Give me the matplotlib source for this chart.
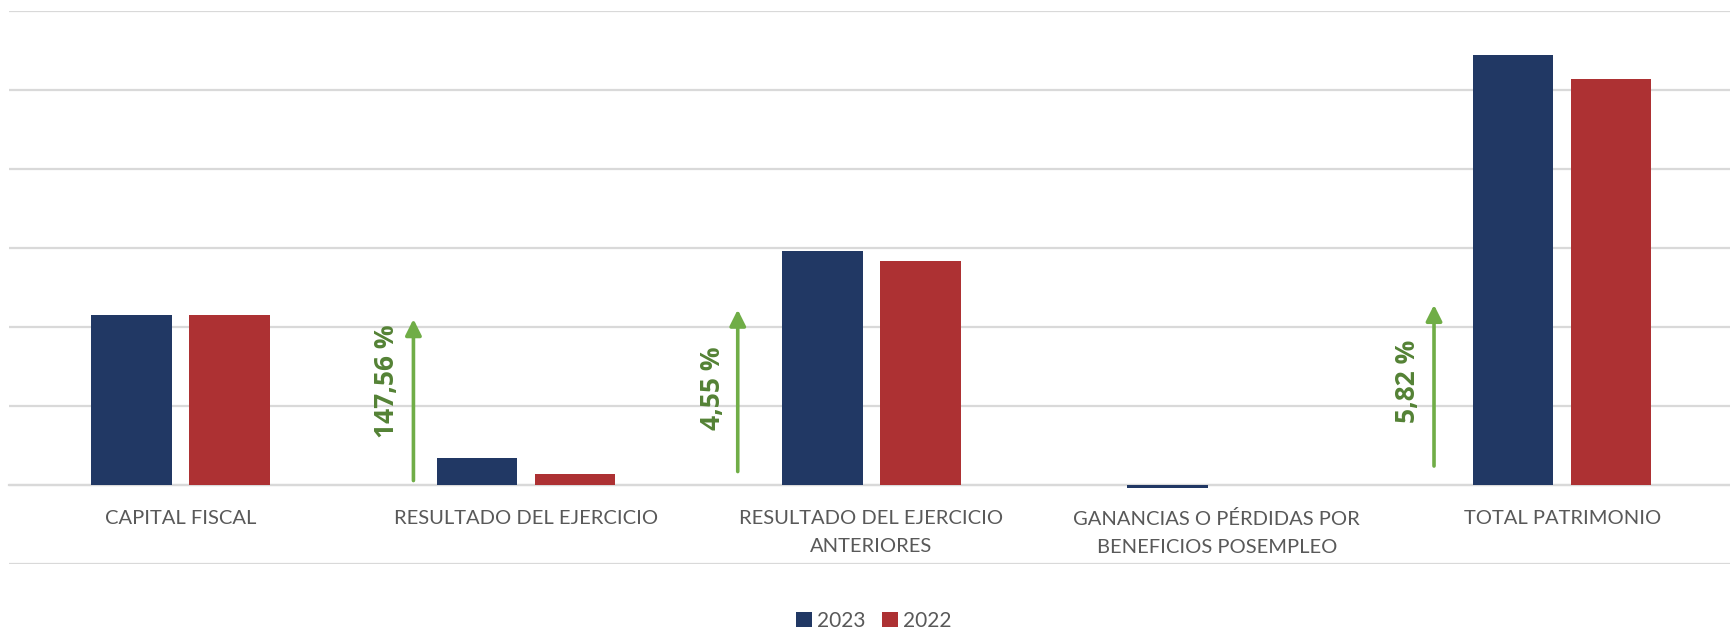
import matplotlib
matplotlib.use("Agg")
import matplotlib.pyplot as plt
import numpy as np

categories = [
    "CAPITAL FISCAL",
    "RESULTADO DEL EJERCICIO",
    "RESULTADO DEL EJERCICIO\nANTERIORES",
    "GANANCIAS O PÉRDIDAS POR\nBENEFICIOS POSEMPLEO",
    "TOTAL PATRIMONIO",
]
values_2023 = [2.15, 0.336, 2.965, -0.04, 5.445]
values_2022 = [2.15, 0.136, 2.84, -0.004, 5.145]
series_labels = ["2023", "2022"]

# growth annotations: category index and label text
change_idx = [1, 2, 4]
change_text = ["147,56 %", "4,55 %", "5,82 %"]

NAVY = "#213864"
RED = "#ad3133"
GREEN = "#70ad47"
GREEN_TXT = "#548235"
GRID = "#d9d9d9"
LABEL = "#595959"

plt.rcParams["font.family"] = ["Lato", "DejaVu Sans"]

fig = plt.figure(figsize=(17.30, 6.34), dpi=100)
ax = fig.add_axes([9 / 1730, 1 - 564 / 634, 1 - 9 / 1730, (564 - 11) / 634])

x = np.arange(len(categories))
bw = 0.233
off = 0.142
ax.bar(x - off, values_2023, width=bw, color=NAVY, label=series_labels[0], zorder=3)
ax.bar(x + off, values_2022, width=bw, color=RED, label=series_labels[1], zorder=3)

ax.set_xlim(-0.497, 4.486)
ax.set_ylim(-1, 6)
ax.set_yticks(np.arange(-1, 7, 1))
ax.yaxis.grid(True, color=GRID, linewidth=1.6, zorder=0)
ax.set_axisbelow(True)
ax.tick_params(axis="y", left=False, labelleft=False)
for s in ["left", "right", "top"]:
    ax.spines[s].set_visible(False)
ax.spines["bottom"].set_position(("data", 0))
ax.spines["bottom"].set_color(GRID)
ax.spines["bottom"].set_linewidth(1.6)
ax.spines["bottom"].set_zorder(1)

ax.set_xticks(x)
ax.set_xticklabels(categories, fontsize=14.5, color=LABEL, linespacing=1.8)
ax.tick_params(axis="x", length=0, pad=18)

# vertical growth arrows with rotated labels
arrow_dx = {1: -0.326, 2: -0.387, 4: -0.371}
arrow_y = {1: (0.056, 2.10), 2: (0.17, 2.22), 4: (0.24, 2.28)}
text_dx = {1: -0.403, 2: -0.46, 4: -0.447}
text_y = {1: 1.31, 2: 1.22, 4: 1.31}
for i, t in zip(change_idx, change_text):
    xa = x[i] + arrow_dx[i]
    y0, y1 = arrow_y[i]
    ax.annotate("", xy=(xa, y1), xytext=(xa, y0),
                arrowprops=dict(arrowstyle="-|>", color=GREEN, lw=2.6,
                                mutation_scale=24, shrinkA=0, shrinkB=0),
                zorder=4)
    ax.text(x[i] + text_dx[i], text_y[i], t, rotation=90, ha="center",
            va="center", fontsize=19, fontweight="bold", color=GREEN_TXT,
            family=["Open Sans", "DejaVu Sans"], zorder=4)

leg = fig.legend(loc="center", bbox_to_anchor=(0.505, 1 - 621 / 634), ncol=2,
                 frameon=False, fontsize=15, handlelength=0.75,
                 handleheight=0.75, handletextpad=0.25, columnspacing=0.8,
                 labelcolor=LABEL)

fig.savefig("out.png", dpi=100, facecolor="white")
